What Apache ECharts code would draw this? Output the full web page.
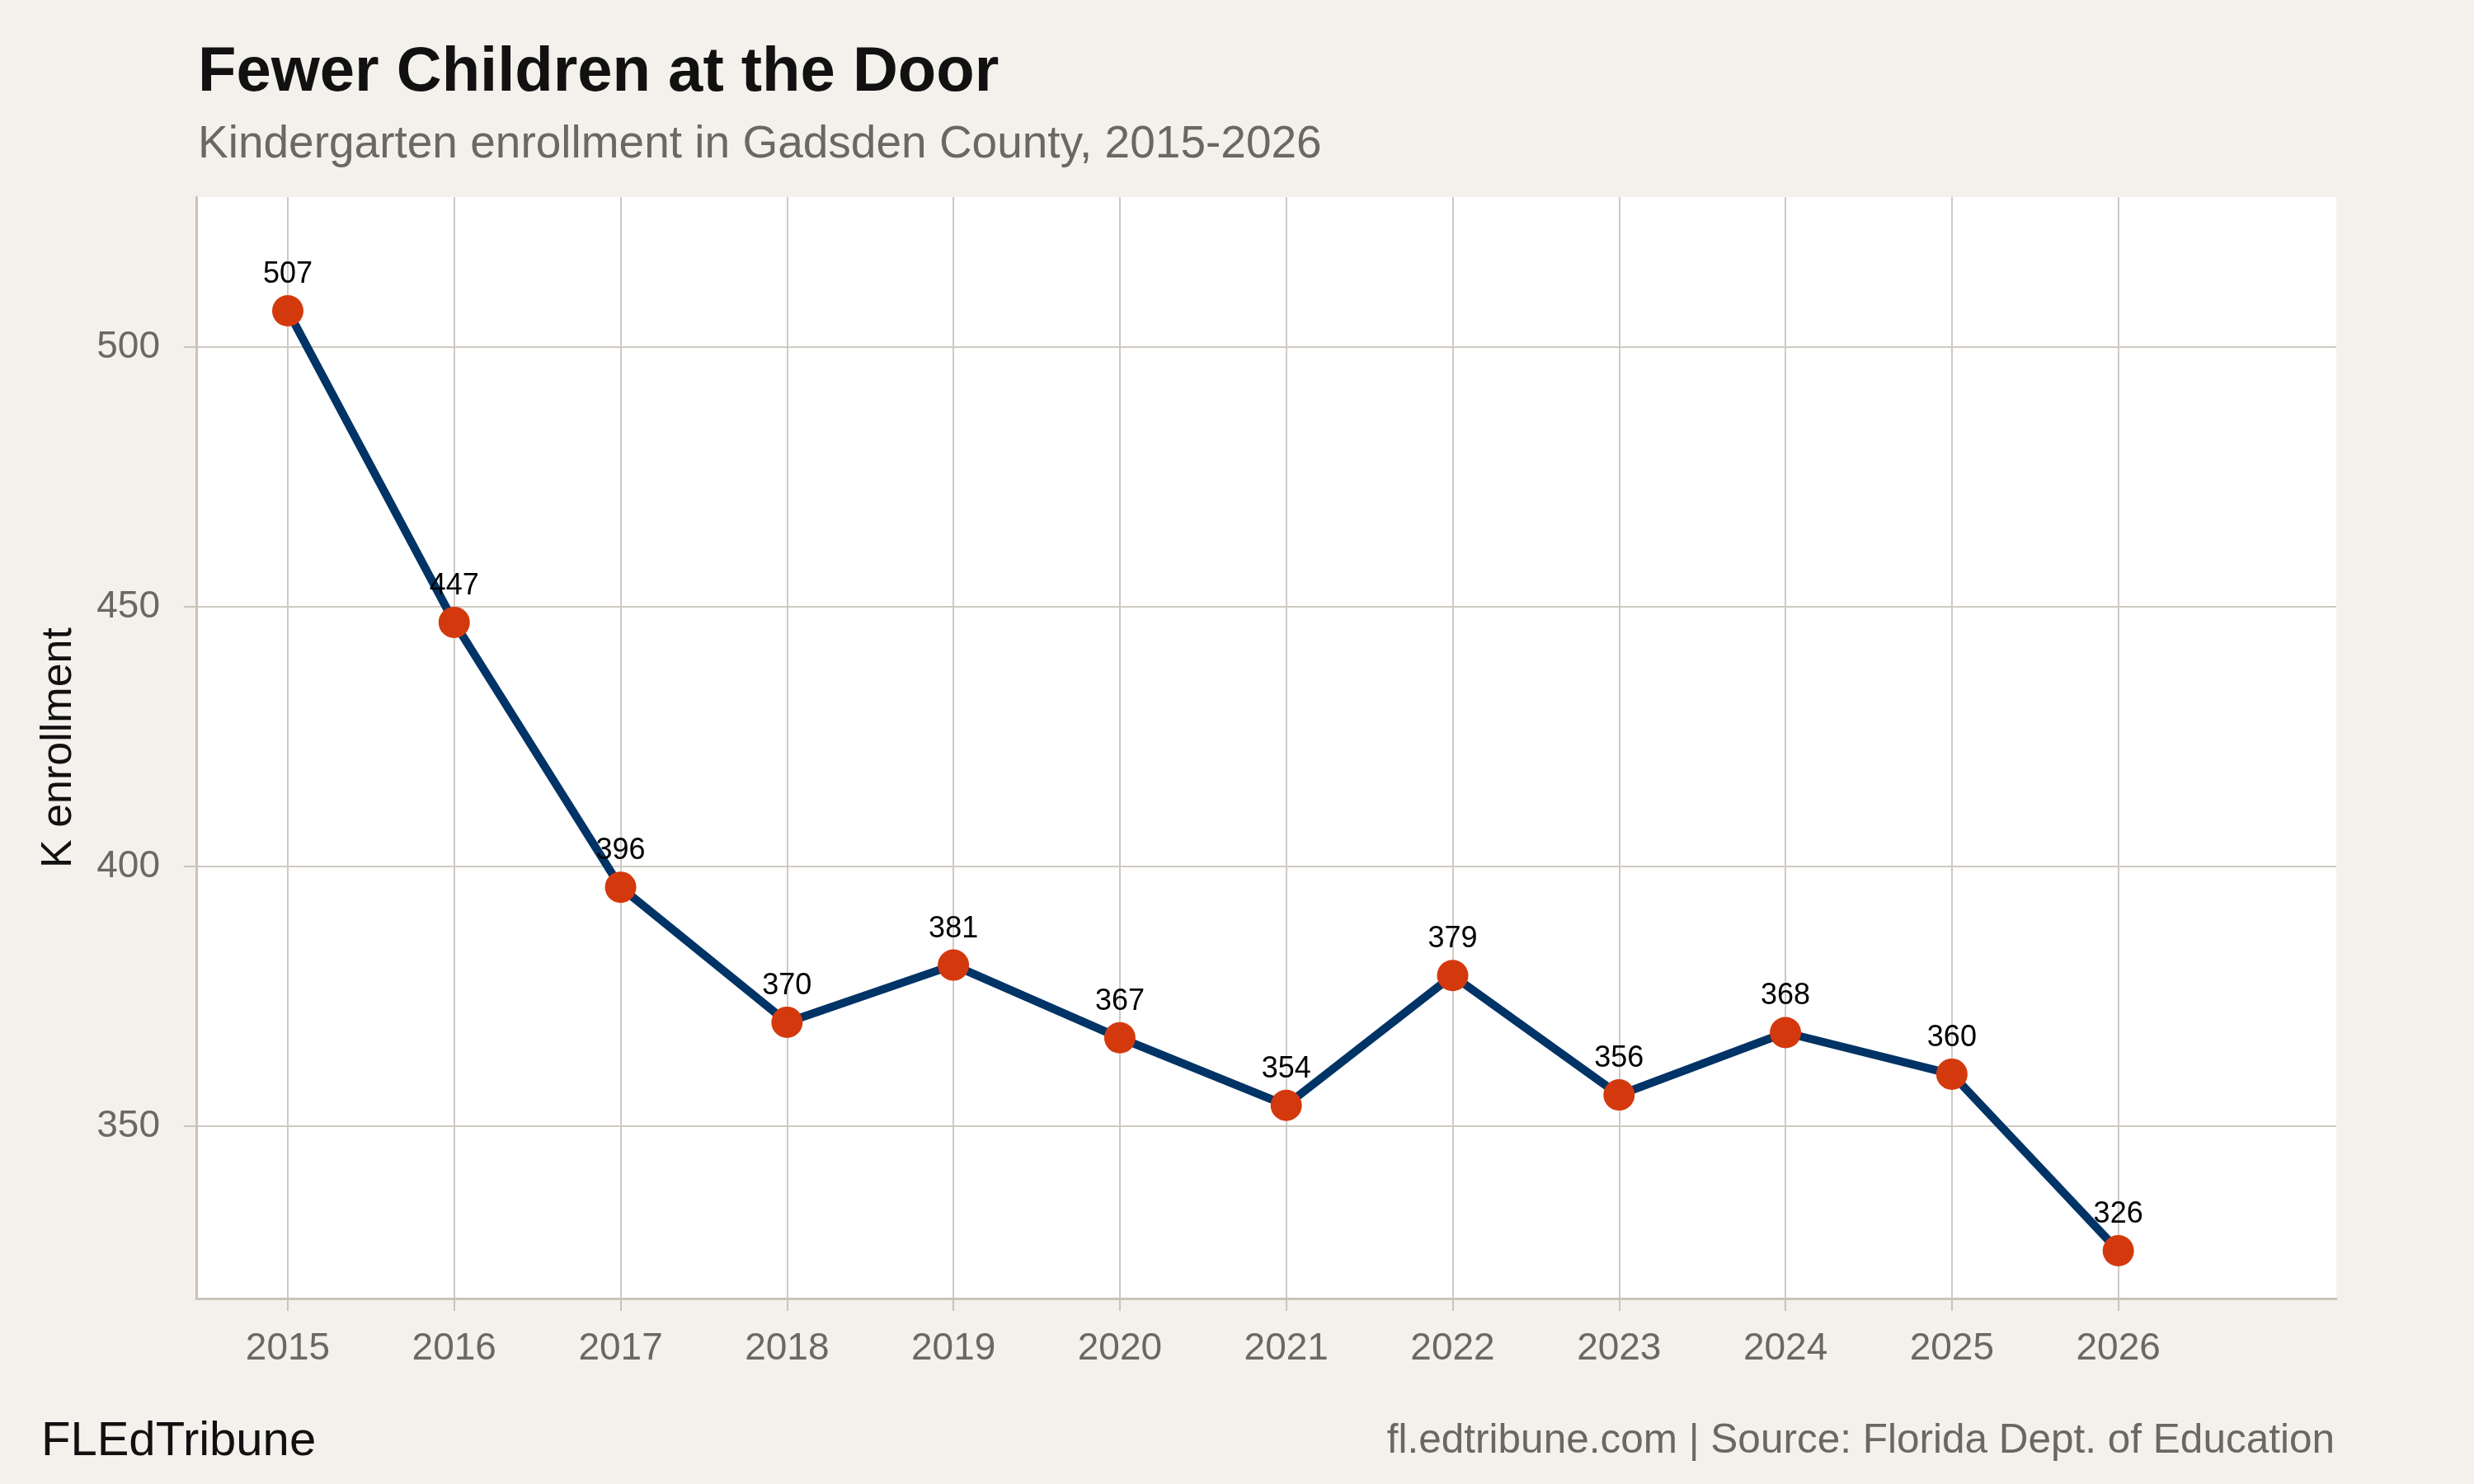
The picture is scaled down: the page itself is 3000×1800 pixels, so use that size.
<!DOCTYPE html>
<html>
<head>
<meta charset="utf-8">
<script src="https://cdn.jsdelivr.net/npm/echarts@6/dist/echarts.min.js"></script>
<style>
  html, body { margin: 0; padding: 0; background: #F4F1EC; }
  #chart { width: 3000px; height: 1800px; }
</style>
</head>
<body>
<div id="chart"></div>
<script>
const years = [2015, 2016, 2017, 2018, 2019, 2020, 2021, 2022, 2023, 2024, 2025, 2026];
const enrollment = [507, 447, 396, 370, 381, 367, 354, 379, 356, 368, 360, 326];
const yTicks = [350, 400, 450, 500];

const titleText = 'Fewer Children at the Door';
const subtitleText = 'Kindergarten enrollment in Gadsden County, 2015-2026';
const yAxisTitle = 'K enrollment';
const captionLeft = 'FLEdTribune';
const captionRight = 'fl.edtribune.com | Source: Florida Dept. of Education';

const FONT = '"Liberation Sans", Helvetica, Arial, sans-serif';
const GRID = '#CFCAC1';
const AXIS = '#C9C3B9';
const TICKTXT = '#6B6862';

const chart = echarts.init(document.getElementById('chart'), null, { renderer: 'canvas' });

const option = {
  backgroundColor: '#F4F1EC',
  animation: false,
  textStyle: { fontFamily: FONT },
  grid: {
    left: 238, right: 167, top: 239, bottom: 225,
    show: true, backgroundColor: '#FFFFFF', borderWidth: 0
  },
  xAxis: {
    type: 'value',
    min: 2014.45,
    max: 2027.31,
    axisLine: { show: true, onZero: false, lineStyle: { color: AXIS, width: 3 } },
    axisTick: { show: true, customValues: years, length: 15, lineStyle: { color: AXIS, width: 2 } },
    axisLabel: {
      customValues: years, formatter: v => String(v),
      fontSize: 46, color: TICKTXT, margin: 38, fontFamily: FONT
    },
    splitLine: { show: true, lineStyle: { color: GRID, width: 2 } }
  },
  yAxis: {
    type: 'value',
    min: 316.8,
    max: 528.9,
    name: yAxisTitle,
    nameLocation: 'middle',
    nameGap: 140,
    nameRotate: 90,
    nameTextStyle: { fontSize: 52, color: '#111111', fontFamily: FONT },
    axisLine: { show: true, lineStyle: { color: AXIS, width: 3 } },
    axisTick: { show: true, customValues: yTicks, length: 15, lineStyle: { color: AXIS, width: 2 } },
    axisLabel: {
      customValues: yTicks, formatter: v => String(v),
      fontSize: 46, color: TICKTXT, margin: 44, fontFamily: FONT
    },
    splitLine: { show: true, lineStyle: { color: GRID, width: 2 } }
  },
  series: [{
    type: 'line',
    data: years.map((y, i) => [y, enrollment[i]]),
    lineStyle: { color: '#003366', width: 10 },
    itemStyle: { color: '#D4390E', borderWidth: 0 },
    symbol: 'circle',
    symbolSize: 38,
    showAllSymbol: true,
    label: {
      show: true, position: 'top', distance: 7,
      fontSize: 36, color: '#000000', fontFamily: FONT,
      formatter: p => String(p.value[1])
    },
    z: 3
  }],
  graphic: [
    { type: 'text', left: 240, top: 51, style: { text: titleText, font: 'bold 76px ' + FONT, fill: '#111111' } },
    { type: 'text', left: 240, top: 148, style: { text: subtitleText, font: '55px ' + FONT, fill: '#6B6862' } },
    { type: 'text', left: 50, top: 1720, style: { text: captionLeft, font: '58px ' + FONT, fill: '#111111' } },
    { type: 'text', right: 169, top: 1723, style: { text: captionRight, font: '49.5px ' + FONT, fill: '#6B6862' } }
  ]
};
chart.setOption(option);
</script>
</body>
</html>
